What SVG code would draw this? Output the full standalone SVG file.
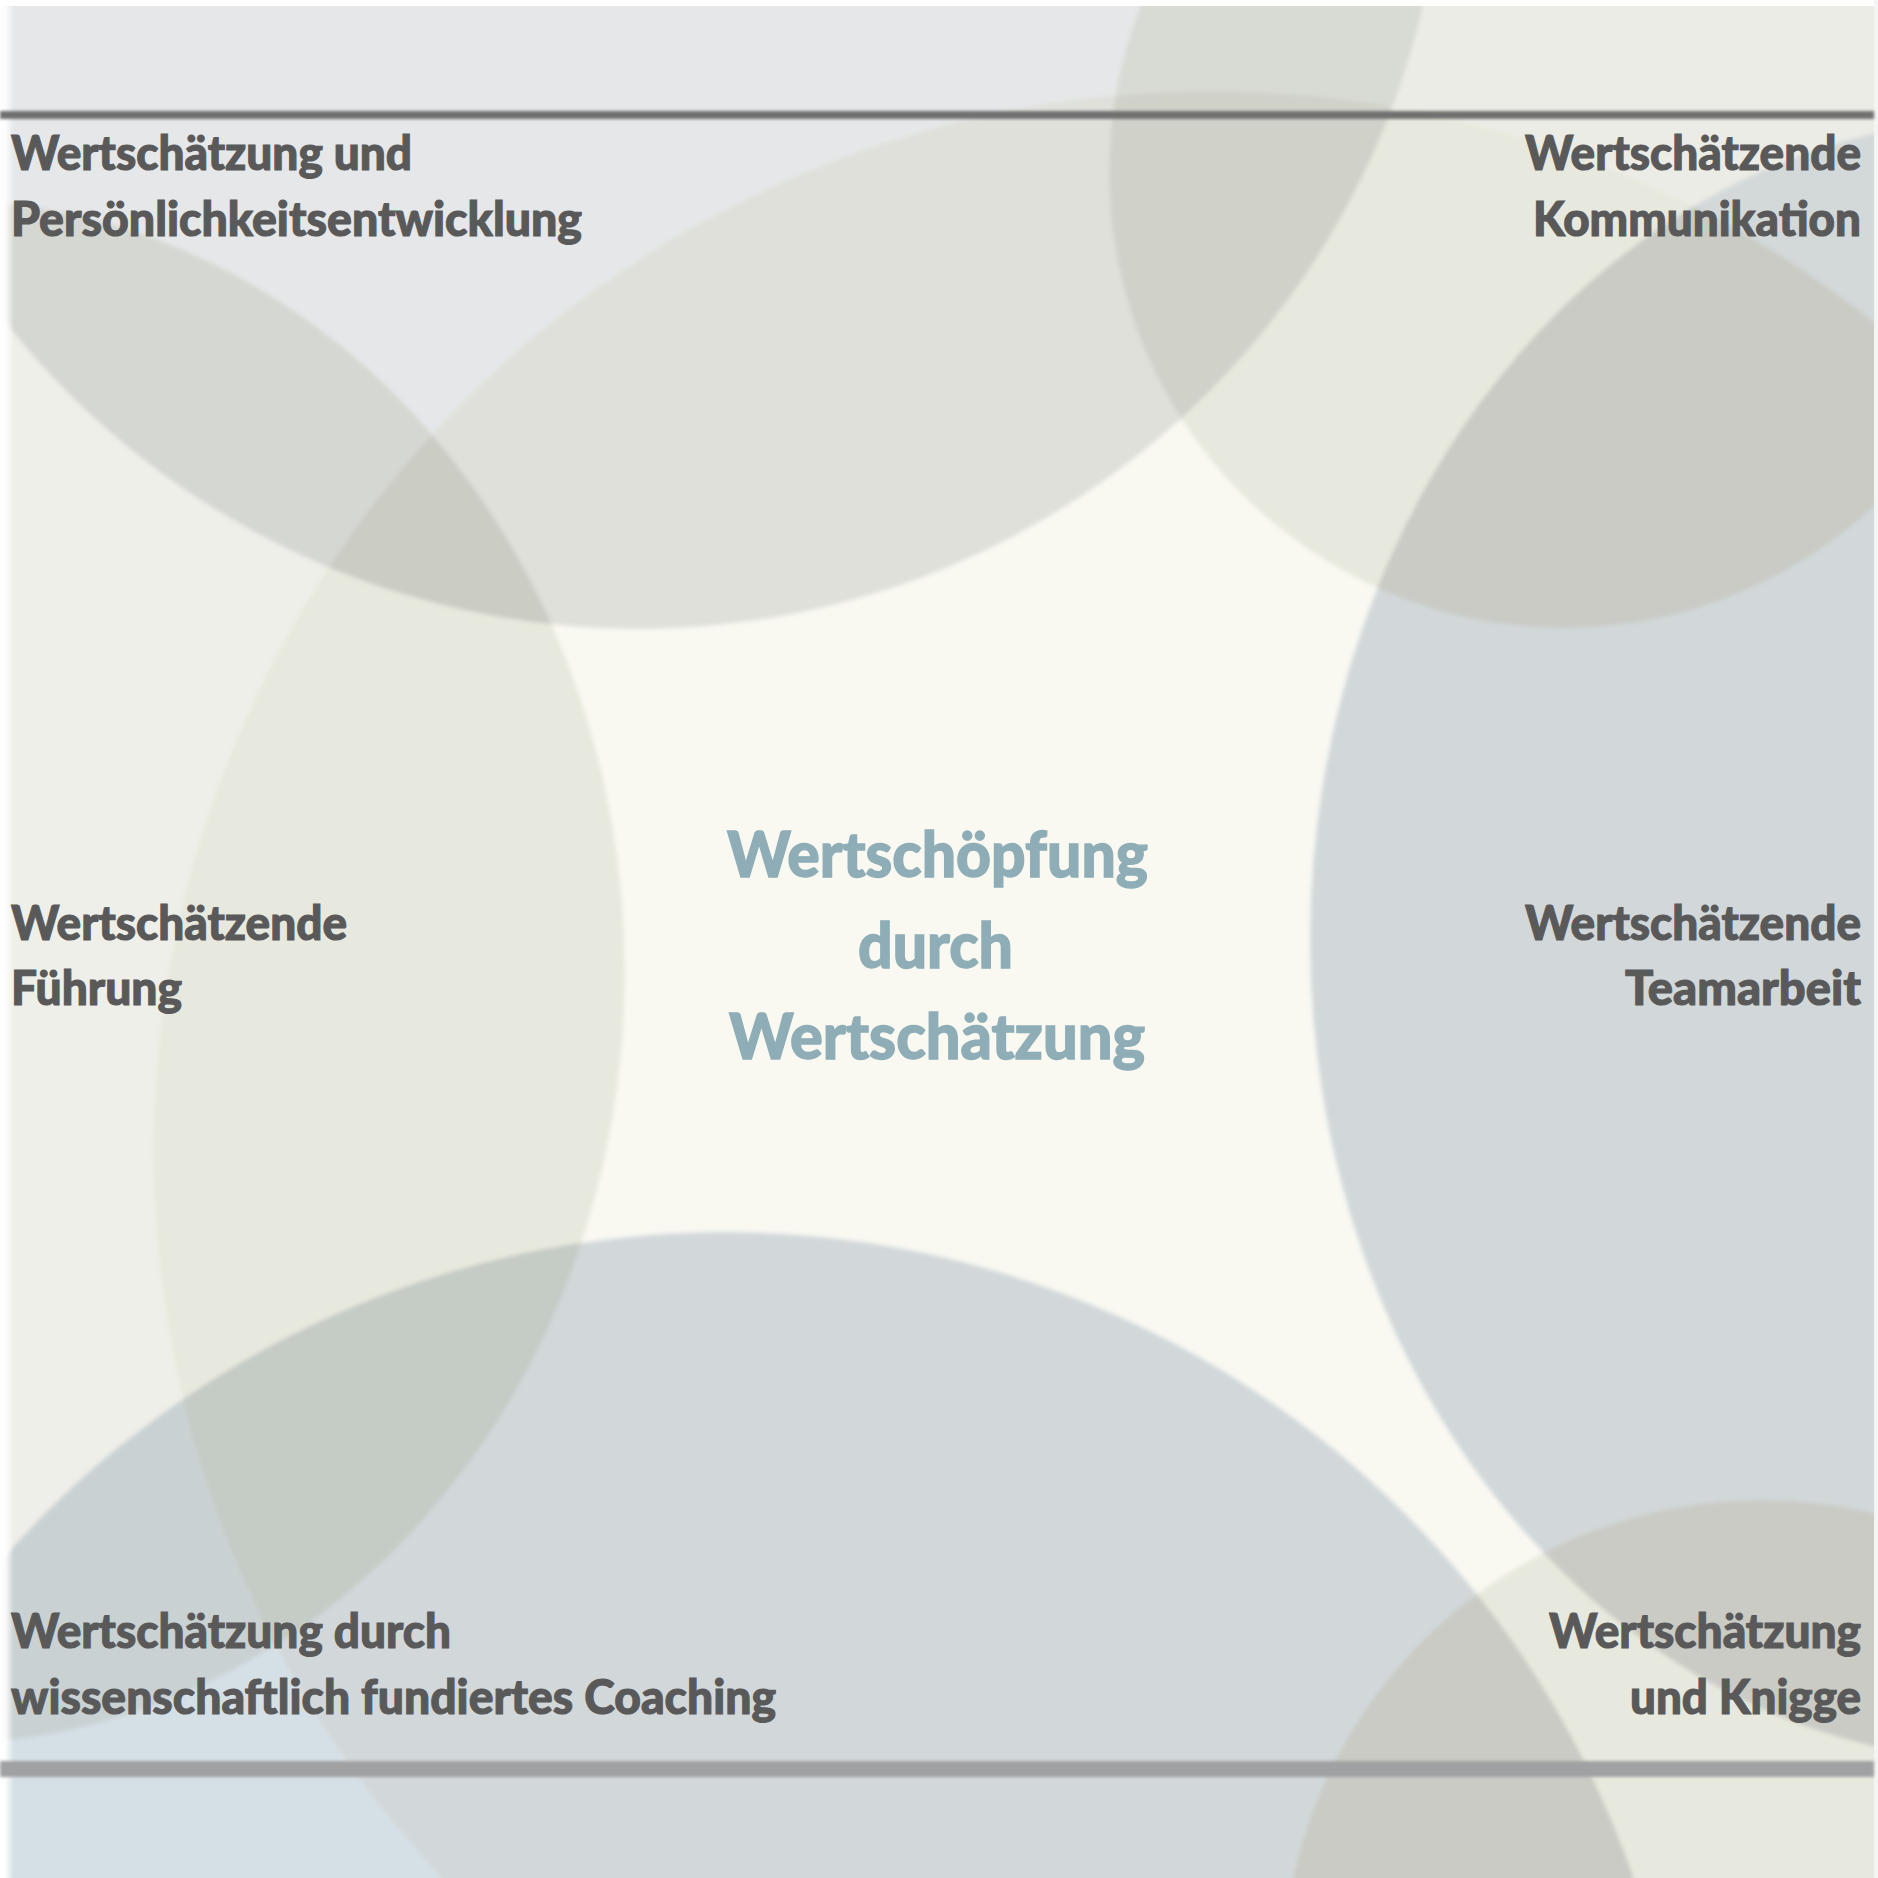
<svg xmlns="http://www.w3.org/2000/svg" width="1878" height="1878" viewBox="0 0 1878 1878">
  <defs>
    <style>
      .lbl { font-family: "Lato", "Liberation Sans", "DejaVu Sans", sans-serif; font-weight: 900; font-size: 48px; fill: #59595a; stroke: #59595a; stroke-width: 1.1px; }
      .ctr { font-family: "Lato", "Liberation Sans", "DejaVu Sans", sans-serif; font-weight: 900; font-size: 62px; fill: #8eadb6; stroke: #8eadb6; stroke-width: 1.3px; }
    </style>
    <clipPath id="cA"><circle cx="638" cy="-177" r="806"/></clipPath>
    <clipPath id="cB"><ellipse cx="-60" cy="972" rx="685" ry="772"/></clipPath>
    <clipPath id="cD"><circle cx="1213" cy="1151" r="1060"/></clipPath>
    <clipPath id="cE2"><circle cx="1564" cy="173" r="455"/></clipPath>
    <clipPath id="cE3"><ellipse cx="2010" cy="940" rx="700" ry="822"/></clipPath>
    <clipPath id="cE4"><circle cx="725" cy="2194" r="962"/></clipPath>
    <clipPath id="cF"><circle cx="1762" cy="1980" r="480"/></clipPath>
    <filter id="soft" x="-10%" y="-10%" width="120%" height="120%">
      <feGaussianBlur stdDeviation="2.2"/>
    </filter>
    <filter id="lineBlur" filterUnits="userSpaceOnUse" x="-20" y="0" width="1920" height="1878">
      <feGaussianBlur stdDeviation="1.5"/>
    </filter>
    <linearGradient id="leftFade" x1="0" y1="0" x2="1" y2="0">
      <stop offset="0" stop-color="#ffffff" stop-opacity="1"/>
      <stop offset="0.4" stop-color="#ffffff" stop-opacity="0.9"/>
      <stop offset="1" stop-color="#ffffff" stop-opacity="0"/>
    </linearGradient>
  </defs>

  <!-- background circles -->
  <g id="background" filter="url(#soft)">
    <rect x="-60" y="-60" width="2000" height="2000" fill="#ffffff"/>
    <!-- outside the big central circle -->
    <circle cx="638" cy="-177" r="806" fill="#e5e7e8"/>
    <ellipse cx="-60" cy="972" rx="685" ry="772" fill="#efefe9"/>
    <circle cx="1564" cy="173" r="455" fill="#ecece6"/>
    <ellipse cx="2010" cy="940" rx="700" ry="822" fill="#d3d8dc"/>
    <circle cx="725" cy="2194" r="962" fill="#d5e0e6"/>
    <circle cx="1762" cy="1980" r="480" fill="#e8e9de"/>
    <g clip-path="url(#cA)"><ellipse cx="-60" cy="972" rx="685" ry="772" fill="#d5d7d2"/></g>
    <g clip-path="url(#cA)"><circle cx="1564" cy="173" r="455" fill="#d8dad4"/></g>
    <g clip-path="url(#cE2)"><ellipse cx="2010" cy="940" rx="700" ry="822" fill="#d3d8d9"/></g>
    <g clip-path="url(#cB)"><circle cx="725" cy="2194" r="962" fill="#c9d1d3"/></g>
    <!-- inside the big central circle -->
    <g clip-path="url(#cD)">
      <rect x="0" y="0" width="1878" height="1878" fill="#f9f9f2"/>
      <circle cx="638" cy="-177" r="806" fill="#dfe0da"/>
      <ellipse cx="-60" cy="972" rx="685" ry="772" fill="#e8e9de"/>
      <circle cx="1564" cy="173" r="455" fill="#e8e9de"/>
      <ellipse cx="2010" cy="940" rx="700" ry="822" fill="#d2d8da"/>
      <circle cx="725" cy="2194" r="962" fill="#d2d8da"/>
      <circle cx="1762" cy="1980" r="480" fill="#e8e9de"/>
      <g clip-path="url(#cA)"><ellipse cx="-60" cy="972" rx="685" ry="772" fill="#cbccc4"/></g>
      <g clip-path="url(#cA)"><circle cx="1564" cy="173" r="455" fill="#d0d2ca"/></g>
      <g clip-path="url(#cE2)"><ellipse cx="2010" cy="940" rx="700" ry="822" fill="#c9cbc4"/></g>
      <g clip-path="url(#cB)"><circle cx="725" cy="2194" r="962" fill="#c5cbc5"/></g>
      <g clip-path="url(#cF)"><circle cx="725" cy="2194" r="962" fill="#c9cbc4"/></g>
      <g clip-path="url(#cF)"><ellipse cx="2010" cy="940" rx="700" ry="822" fill="#c9cbc4"/></g>
    </g>
  </g>

  <!-- frame edges and rules -->
  <g id="edges">
    <rect x="0" y="0" width="1878" height="6" fill="#ffffff"/>
    <rect x="0" y="0" width="14" height="1878" fill="url(#leftFade)"/>
    <rect x="1874" y="0" width="4" height="1878" fill="#f4f4f4"/>
    <rect x="0" y="111" width="1874" height="8" fill="#707070" filter="url(#lineBlur)"/>
    <rect x="0" y="1761" width="1874" height="16" fill="#a0a1a3" filter="url(#lineBlur)"/>
  </g>

  <!-- labels -->
  <g id="node-persoenlichkeit">
    <text class="lbl" x="11" y="170" textLength="401" lengthAdjust="spacingAndGlyphs">Wertschätzung und</text>
    <text class="lbl" x="11" y="236" textLength="571" lengthAdjust="spacingAndGlyphs">Persönlichkeitsentwicklung</text>
  </g>
  <g id="node-kommunikation">
    <text class="lbl" x="1861" y="170" text-anchor="end" textLength="336" lengthAdjust="spacingAndGlyphs">Wertschätzende</text>
    <text class="lbl" x="1861" y="236" text-anchor="end" textLength="328" lengthAdjust="spacingAndGlyphs">Kommunikation</text>
  </g>
  <g id="node-fuehrung">
    <text class="lbl" x="11" y="940" textLength="336" lengthAdjust="spacingAndGlyphs">Wertschätzende</text>
    <text class="lbl" x="11" y="1005" textLength="171" lengthAdjust="spacingAndGlyphs">Führung</text>
  </g>
  <g id="node-teamarbeit">
    <text class="lbl" x="1861" y="940" text-anchor="end" textLength="336" lengthAdjust="spacingAndGlyphs">Wertschätzende</text>
    <text class="lbl" x="1861" y="1005" text-anchor="end" textLength="236" lengthAdjust="spacingAndGlyphs">Teamarbeit</text>
  </g>
  <g id="node-coaching">
    <text class="lbl" x="11" y="1648" textLength="440" lengthAdjust="spacingAndGlyphs">Wertschätzung durch</text>
    <text class="lbl" x="11" y="1714" textLength="765" lengthAdjust="spacingAndGlyphs">wissenschaftlich fundiertes Coaching</text>
  </g>
  <g id="node-knigge">
    <text class="lbl" x="1861" y="1648" text-anchor="end" textLength="312" lengthAdjust="spacingAndGlyphs">Wertschätzung</text>
    <text class="lbl" x="1861" y="1714" text-anchor="end" textLength="231" lengthAdjust="spacingAndGlyphs">und Knigge</text>
  </g>
  <g id="node-center">
    <text class="ctr" x="937.5" y="877" text-anchor="middle" textLength="421" lengthAdjust="spacingAndGlyphs">Wertschöpfung</text>
    <text class="ctr" x="935.5" y="968" text-anchor="middle" textLength="155" lengthAdjust="spacingAndGlyphs">durch</text>
    <text class="ctr" x="937" y="1059" text-anchor="middle" textLength="416" lengthAdjust="spacingAndGlyphs">Wertschätzung</text>
  </g>
</svg>
